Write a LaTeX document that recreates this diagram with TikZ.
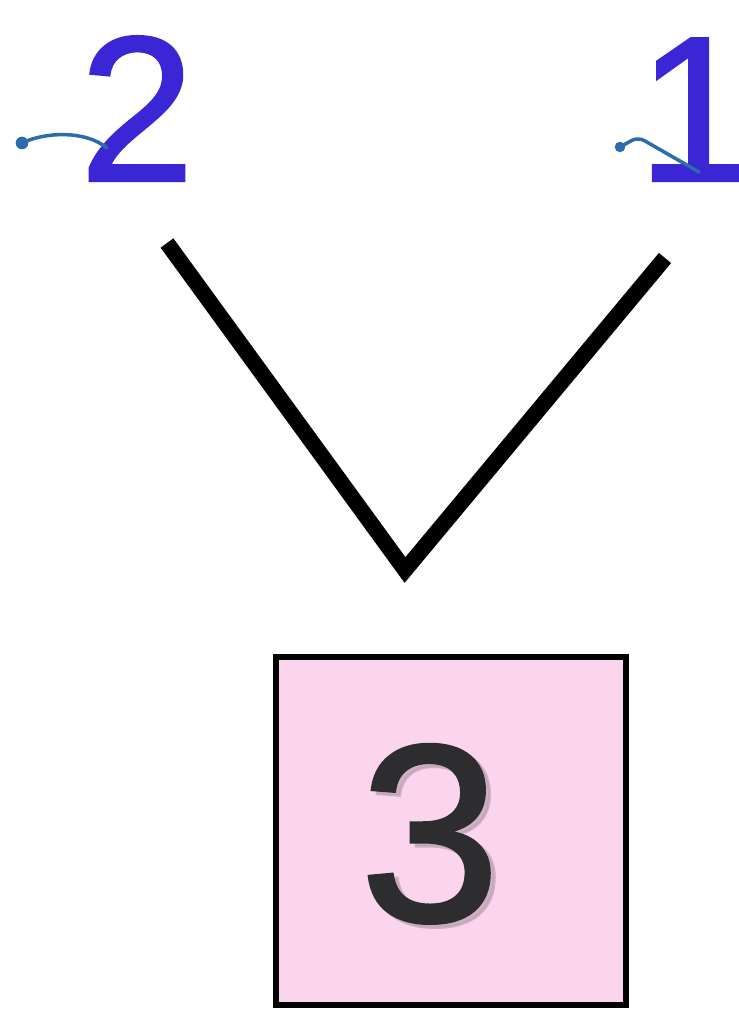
\documentclass[tikz,border=0pt]{standalone}
\usepackage{fontspec}
\setmainfont{Liberation Sans}
\newfontfamily\digitfont[FakeBold=1.2]{Liberation Sans}
\usepackage{tikz}
\usetikzlibrary{positioning}
\definecolor{digitblue}{RGB}{58,38,212}
\definecolor{tailblue}{RGB}{45,108,172}
\definecolor{boxpink}{RGB}{251,212,237}
\definecolor{darkdigit}{RGB}{45,45,48}

\begin{document}
\begin{tikzpicture}[semithick,
    digit/.style={inner sep=0pt, anchor=base, text=digitblue, font=\digitfont\fontsize{59}{59}\selectfont},
    bigdigit/.style={inner sep=0pt, anchor=base, font=\digitfont\fontsize{72}{72}\selectfont},
    tail/.style={draw=tailblue, line width=1pt, line cap=round, rounded corners=2pt},
    leg/.style={line width=4.5pt}]
    \useasboundingbox (0,0) rectangle (7.38,10.1);
    % labels on top
    \node[digit] (two) at (1.37,8.29) {2};
    \node[digit] (one) at (6.95,8.29) {1};
    \coordinate (t2a) at (0.22,8.67);
    \coordinate (t2b) at (1.07,8.62);
    \coordinate (t1a) at (6.20,8.63);
    \coordinate (t1b) at (6.99,8.38);
    \fill[tailblue] (t2a) circle (1.8pt);
    \fill[tailblue] (t1a) circle (1.5pt);
    \draw[tail] (t2a) .. controls (0.45,8.78) and (0.85,8.80) .. (t2b);
    \draw[tail] (t1a) -- (6.38,8.73) -- (t1b);
    % the V
    \coordinate (vl) at (1.67,7.67);
    \coordinate (vb) at (4.05,4.40);
    \coordinate (vr) at (6.65,7.52);
    \draw[leg] (vl) -- (vb) -- (vr);
    % box
    \node[draw=black, line width=1.5pt, fill=boxpink, minimum width=3.5cm, minimum height=3.48cm] (box) at (4.51,1.79) {};
    \node[bigdigit, text=darkdigit!30!boxpink, opacity=0.7] (shade) at (4.35,0.85) {3};
    \node[bigdigit, text=darkdigit] (three) at (4.30,0.89) {3};
\end{tikzpicture}
\end{document}
